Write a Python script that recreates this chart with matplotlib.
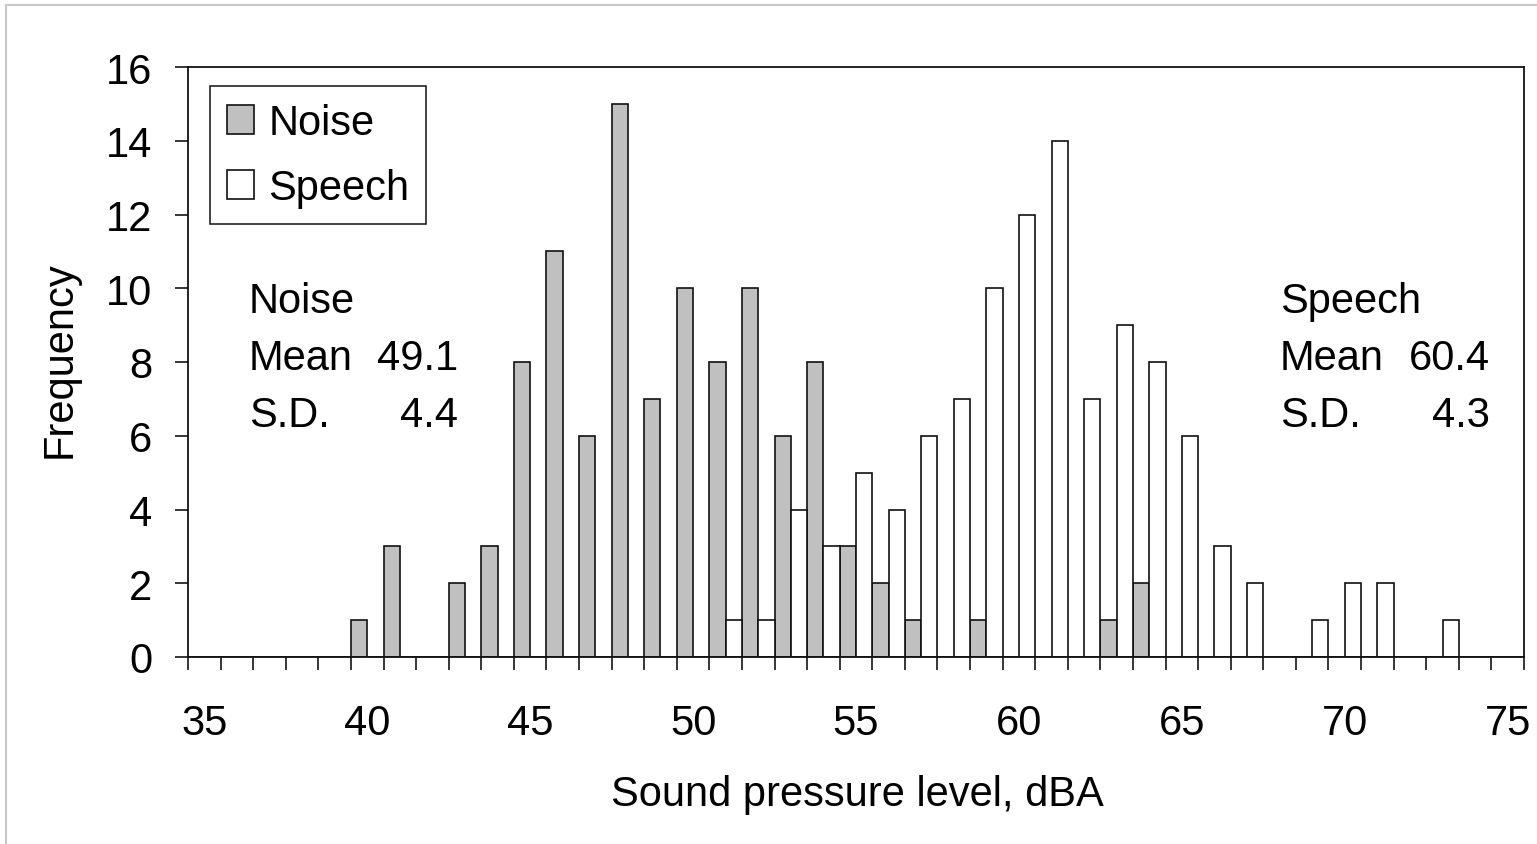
import matplotlib
matplotlib.use("Agg")
import matplotlib.pyplot as plt
from matplotlib.lines import Line2D
import numpy as np

plt.rcParams['font.family'] = ['Liberation Sans', 'DejaVu Sans']

# ---- data ----
levels = list(range(35, 76))  # dBA categories 35..75
noise_counts = [0, 0, 0, 0, 0, 1, 3, 0, 2, 3,      # 35-44
                8, 11, 6, 15, 7, 10, 8, 10, 6, 8,  # 45-54
                3, 2, 1, 0, 1, 0, 0, 0, 1, 2,      # 55-64
                0, 0, 0, 0, 0, 0, 0, 0, 0, 0,      # 65-74
                0]                                 # 75
speech_counts = [0, 0, 0, 0, 0, 0, 0, 0, 0, 0,     # 35-44
                 0, 0, 0, 0, 0, 0, 1, 1, 4, 3,     # 45-54
                 5, 4, 6, 7, 10, 12, 14, 7, 9, 8,  # 55-64
                 6, 3, 2, 0, 1, 2, 2, 0, 1, 0,     # 65-74
                 0]                                # 75
xtick_labels = [35, 40, 45, 50, 55, 60, 65, 70, 75]
yticks = [0, 2, 4, 6, 8, 10, 12, 14, 16]
noise_stats = ("Noise", "49.1", "4.4")
speech_stats = ("Speech", "60.4", "4.3")

W, H = 1537, 845
fig = plt.figure(figsize=(W / 100, H / 100), dpi=100)
fs = 30

def fx(px):
    return px / W

def fy(py):
    return 1 - py / H

ax = fig.add_axes([fx(188), fy(658), fx(1524) - fx(188), fy(68) - fy(658)])

x = np.array(levels, dtype=float)
bw = 0.5
ax.bar(x - 0.5, noise_counts, width=bw, align='edge', color='#C0C0C0',
       edgecolor='#111111', linewidth=1.2, label='Noise', zorder=2)
ax.bar(x, speech_counts, width=bw, align='edge', color='white',
       edgecolor='#111111', linewidth=1.2, label='Speech', zorder=2)

ax.set_xlim(levels[0] - 0.5, levels[-1] + 0.5)
ax.set_ylim(0, 16)

# y axis
ax.set_yticks(yticks)
ax.set_yticklabels([str(v) for v in yticks])
ax.tick_params(axis='y', which='major', direction='out', length=9.5, width=1.1,
               pad=16, labelsize=fs, colors='black')

# x axis: labels at category centres, tick marks at category boundaries
ax.set_xticks(xtick_labels)
ax.set_xticklabels([str(v) for v in xtick_labels])
ax.set_xticks(np.append(x - 0.5, x[-1] + 0.5), minor=True)
ax.tick_params(axis='x', which='major', length=0, pad=33, labelsize=fs)
ax.tick_params(axis='x', which='minor', direction='out', length=9.5, width=1.1)

for s in ax.spines.values():
    s.set_color('#111111')
    s.set_linewidth(1.3)

# axis titles
fig.text(fx(60), fy(360), "Frequency", rotation=90, ha='center', va='center', fontsize=fs)
fig.text(fx(857), fy(806), "Sound pressure level, dBA", ha='center', va='baseline', fontsize=fs)

# legend
leg = ax.legend(loc='upper left', bbox_to_anchor=(fx(210), fy(87)),
                bbox_transform=fig.transFigure, borderaxespad=0,
                fontsize=fs, frameon=True, fancybox=False, shadow=False,
                handlelength=0.65, handleheight=0.7, handletextpad=0.35,
                borderpad=0.4, labelspacing=0.6)
leg.get_frame().set_edgecolor('#111111')
leg.get_frame().set_linewidth(1.1)
leg.get_frame().set_alpha(None)

# statistics annotations
def stats_block(x_left, x_right, stats):
    name, mean, sd = stats
    base = [313, 370, 427]
    fig.text(fx(x_left), fy(base[0]), name, ha='left', va='baseline', fontsize=fs)
    fig.text(fx(x_left), fy(base[1]), "Mean", ha='left', va='baseline', fontsize=fs)
    fig.text(fx(x_right), fy(base[1]), mean, ha='right', va='baseline', fontsize=fs)
    fig.text(fx(x_left), fy(base[2]), "S.D.", ha='left', va='baseline', fontsize=fs)
    fig.text(fx(x_right), fy(base[2]), sd, ha='right', va='baseline', fontsize=fs)

stats_block(249, 458, noise_stats)
stats_block(1280, 1490, speech_stats)

# faint outer border (top and left)
fig.add_artist(Line2D([fx(6), 1], [fy(6), fy(6)], transform=fig.transFigure,
                      color='#C8C8C8', linewidth=1.5))
fig.add_artist(Line2D([fx(6), fx(6)], [0, fy(6)], transform=fig.transFigure,
                      color='#C8C8C8', linewidth=1.5))

fig.savefig("out.png", dpi=100, facecolor='white')
